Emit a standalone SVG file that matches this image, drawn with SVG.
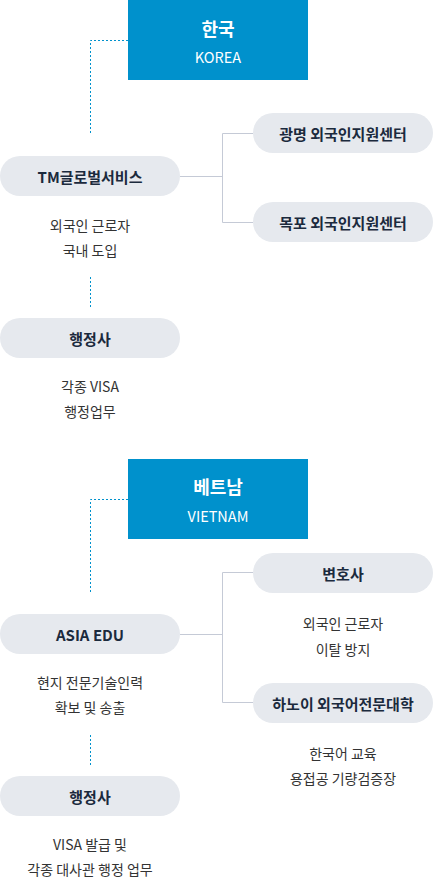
<svg xmlns="http://www.w3.org/2000/svg" width="433" height="883" viewBox="0 0 433 883">
<style>
.country{fill:#0091CC}
.ct{font-family:"Noto Sans CJK KR","Noto Sans",sans-serif;fill:#fff;text-anchor:middle;dominant-baseline:central}
.ct1{font-size:18px;font-weight:700}
.ct2{font-size:14.5px}
.pill{fill:#E6E9EE}
.pt{font-family:"Noto Sans CJK KR","Noto Sans",sans-serif;font-size:15px;font-weight:700;fill:#1B2A3D;text-anchor:middle;dominant-baseline:central}
.desc{font-family:"Noto Sans CJK KR","Noto Sans",sans-serif;font-size:14px;fill:#333;text-anchor:middle;dominant-baseline:central}
.dot{fill:none;stroke:#0091CC;stroke-width:1;stroke-dasharray:2 2}
.ln{fill:none;stroke:#C5CAD6;stroke-width:1}
</style>
<g id="connectors">
<path class="dot" d="M128 40.5H90.5V133"/>
<path class="dot" d="M90.5 277V308"/>
<path class="dot" d="M128 499.5H90.5V592"/>
<path class="dot" d="M90.5 735V766"/>
<path class="ln" d="M180 176.5H222.5"/>
<path class="ln" d="M253 133.5H222.5V222.5H253"/>
<path class="ln" d="M180 634.5H222.5"/>
<path class="ln" d="M253 572.5H222.5V702.5H253"/>
</g>
<g id="korea">
<rect class="country" x="128" y="0" width="180" height="80"/>
<text class="ct ct1" x="218" y="28">한국</text>
<text class="ct ct2" x="218" y="56">KOREA</text>
</g>
<g id="tm">
<rect class="pill" x="0" y="156" width="180" height="40" rx="20"/>
<text class="pt" x="90" y="176">TM글로벌서비스</text>
<text class="desc" x="90" y="225">외국인 근로자</text>
<text class="desc" x="90" y="250">국내 도입</text>
</g>
<g id="gwangmyeong">
<rect class="pill" x="253" y="113" width="180" height="40" rx="20"/>
<text class="pt" x="343" y="133">광명 외국인지원센터</text>
</g>
<g id="mokpo">
<rect class="pill" x="253" y="202" width="180" height="40" rx="20"/>
<text class="pt" x="343" y="222">목포 외국인지원센터</text>
</g>
<g id="admin-kr">
<rect class="pill" x="0" y="318" width="180" height="40" rx="20"/>
<text class="pt" x="90" y="338">행정사</text>
<text class="desc" x="90" y="386">각종 VISA</text>
<text class="desc" x="90" y="411">행정업무</text>
</g>
<g id="vietnam">
<rect class="country" x="128" y="459" width="180" height="80"/>
<text class="ct ct1" x="218" y="486">베트남</text>
<text class="ct ct2" x="218" y="515">VIETNAM</text>
</g>
<g id="asiaedu">
<rect class="pill" x="0" y="614" width="180" height="40" rx="20"/>
<text class="pt" x="90" y="634">ASIA EDU</text>
<text class="desc" x="90" y="682">현지 전문기술인력</text>
<text class="desc" x="90" y="707">확보 및 송출</text>
</g>
<g id="lawyer">
<rect class="pill" x="253" y="553" width="180" height="40" rx="20"/>
<text class="pt" x="343" y="573">변호사</text>
<text class="desc" x="343" y="623">외국인 근로자</text>
<text class="desc" x="343" y="649">이탈 방지</text>
</g>
<g id="hanoi">
<rect class="pill" x="253" y="683" width="180" height="40" rx="20"/>
<text class="pt" x="343" y="703">하노이 외국어전문대학</text>
<text class="desc" x="343" y="753">한국어 교육</text>
<text class="desc" x="343" y="778">용접공 기량검증장</text>
</g>
<g id="admin-vn">
<rect class="pill" x="0" y="776" width="180" height="40" rx="20"/>
<text class="pt" x="90" y="796">행정사</text>
<text class="desc" x="90" y="844">VISA 발급 및</text>
<text class="desc" x="90" y="869">각종 대사관 행정 업무</text>
</g>
</svg>
